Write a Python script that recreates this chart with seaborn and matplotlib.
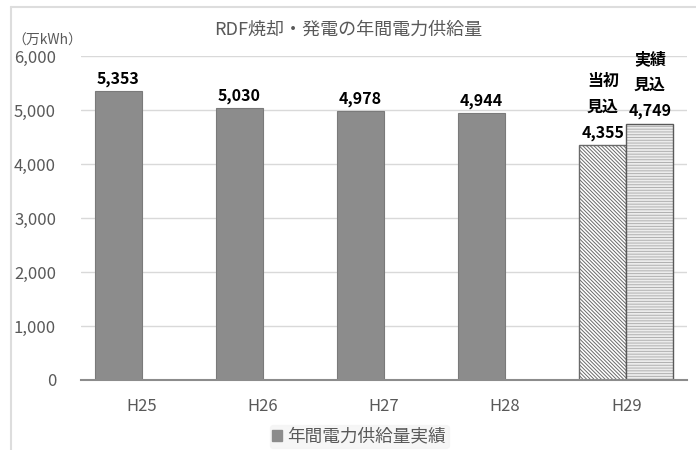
import pandas as pd
import seaborn as sns
import matplotlib.pyplot as plt
from matplotlib.patches import Patch, Rectangle
from matplotlib.lines import Line2D

# Data
years = ["H25", "H26", "H27", "H28", "H29"]
supply = [5353, 5030, 4978, 4944, 4355]      # 年間電力供給量実績 (H29 = 当初見込)
outlook_year = ["H29"]
outlook = [4749]                              # 実績見込
series_main = "年間電力供給量実績"
series_outlook = "実績見込"

df = pd.concat([
    pd.DataFrame({"year": years, "value": supply, "series": series_main}),
    pd.DataFrame({"year": outlook_year, "value": outlook, "series": series_outlook}),
])

sns.set_style("white")
plt.rcParams["font.family"] = ["Noto Sans CJK JP", "DejaVu Sans"]
plt.rcParams["hatch.linewidth"] = 0.7

fig = plt.figure(figsize=(6.96, 4.5), dpi=100)
ax = fig.add_axes([0.1164, 0.1556, 0.8706, 0.72])

sns.barplot(data=df, x="year", y="value", hue="series", order=years,
            hue_order=[series_main, series_outlook], width=0.776,
            palette=["#8c8c8c", "#e8e8e8"], saturation=1, legend=False, ax=ax)

grey_dark = "#595959"
for bar in ax.containers[0]:
    bar.set_edgecolor("#7a7a7a")
    bar.set_linewidth(0.8)

# H29 当初見込 bar: dense diagonal hatch
first_plan = ax.containers[0][-1]
first_plan.set_facecolor("white")
first_plan.set_edgecolor("#6a6a6a")
first_plan.set_hatch("\\" * 9)
first_plan.set_linewidth(1.0)

# H29 実績見込 bar: light horizontal lines, dark outline
for bar in ax.containers[1]:
    overlay = Rectangle(bar.get_xy(), bar.get_width(), bar.get_height(),
                        facecolor="#ececec", edgecolor="#b0b0b0", hatch="-" * 6,
                        linewidth=0, zorder=bar.get_zorder() + 0.1)
    ax.add_patch(overlay)
    bar.set_facecolor("none")
    bar.set_edgecolor(grey_dark)
    bar.set_linewidth(1.0)
    bar.set_zorder(bar.get_zorder() + 0.2)

labels_main = [f"{v:,}" for v in supply[:-1]] + [f"当初\n見込\n{supply[-1]:,}"]
labels_outlook = [f"実績\n見込\n{v:,}" for v in outlook]
ax.bar_label(ax.containers[0], labels=labels_main, padding=3, fontsize=11.5,
             fontweight="bold", color="black", linespacing=1.75)
ax.bar_label(ax.containers[1], labels=labels_outlook, padding=3, fontsize=11.5,
             fontweight="bold", color="black", linespacing=1.75)

ax.set_ylim(0, 6000)
ax.set_yticks(range(0, 6001, 1000))
ax.set_yticklabels([f"{v:,}" for v in range(0, 6001, 1000)])
ax.yaxis.grid(True, color="#d9d9d9", linewidth=1)
ax.set_axisbelow(True)
ax.tick_params(axis="both", length=0, labelsize=12, colors=grey_dark)
ax.tick_params(axis="y", pad=18)
ax.tick_params(axis="x", pad=13)
ax.set_xlabel("")
ax.set_ylabel("")
for s in ["left", "right", "top"]:
    ax.spines[s].set_visible(False)
ax.spines["bottom"].set_color("#8c8c8c")
ax.spines["bottom"].set_linewidth(1.5)

fig.text(0.5, 0.933, "RDF焼却・発電の年間電力供給量", ha="center", va="center",
         fontsize=13, color=grey_dark)
fig.text(0.018, 0.895, "（万kWh）", ha="left", va="bottom", fontsize=10,
         color=grey_dark)

handle = Patch(facecolor="#8c8c8c", edgecolor="#8c8c8c")
leg = fig.legend([handle], [series_main], loc="center", bbox_to_anchor=(0.516, 0.03),
                 frameon=True, fontsize=12.7, handlelength=0.55, handleheight=0.55,
                 handletextpad=0.3, borderpad=0.15)
leg.get_frame().set_facecolor("#f4f4f4")
leg.get_frame().set_edgecolor("#f4f4f4")
for t in leg.get_texts():
    t.set_color(grey_dark)

# chart frame (top and left edges)
fig.add_artist(Line2D([0.016, 1.0], [0.985, 0.985], color="#dddddd", lw=1.5))
fig.add_artist(Line2D([0.016, 0.016], [0.0, 0.985], color="#dddddd", lw=1.5))

fig.savefig("out.png", dpi=100)
